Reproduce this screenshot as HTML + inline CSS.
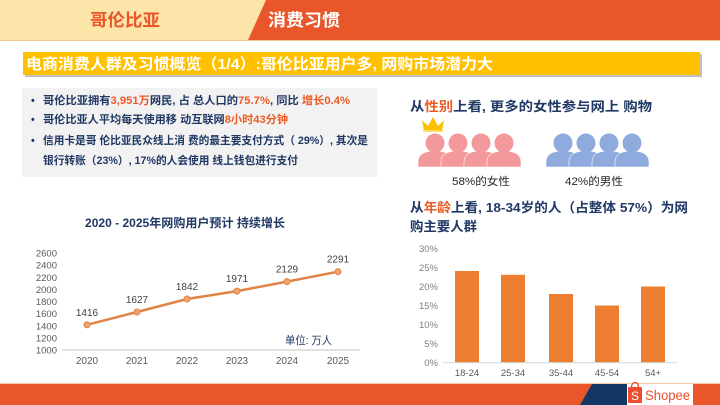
<!DOCTYPE html>
<html><head><meta charset="utf-8">
<style>
html,body{margin:0;padding:0;background:#fff;}
svg{display:block;}
text{font-family:"Liberation Sans","Noto Sans CJK SC",sans-serif;}
</style></head>
<body>
<svg width="720" height="405" viewBox="0 0 720 405" xmlns="http://www.w3.org/2000/svg">
<rect x="0" y="0" width="720" height="405" fill="#fff"/>
<!-- header -->
<rect x="0" y="0" width="720" height="40" fill="#fde5a9"/>
<polygon points="266,0 720,0 720,40 248,40" fill="#e8562a"/>
<rect x="0" y="40" width="720" height="1" fill="#f3c593"/>
<text x="90" y="26" font-size="17" font-weight="bold" fill="#e8562a" textLength="70" lengthAdjust="spacingAndGlyphs">哥伦比亚</text>
<text x="268" y="26" font-size="17" font-weight="bold" fill="#fff" textLength="72" lengthAdjust="spacingAndGlyphs">消费习惯</text>

<!-- title bar -->
<rect x="25" y="54" width="677" height="23" fill="#a6a6a6" opacity="0.7"/>
<rect x="23" y="52" width="677" height="23" fill="#ffc000"/>
<text x="26" y="69" font-size="15" font-weight="bold" fill="#fff" textLength="467" lengthAdjust="spacingAndGlyphs">电商消费人群及习惯概览（1/4）:哥伦比亚用户多, 网购市场潜力大</text>

<!-- bullets box -->
<rect x="22" y="88" width="355" height="89" fill="#f2f2f2"/>
<g font-size="10.8" font-weight="bold" fill="#203864">
<text x="31" y="104">•</text>
<text x="31" y="123">•</text>
<text x="31" y="144">•</text>
<text x="43" y="104" textLength="307" lengthAdjust="spacingAndGlyphs">哥伦比亚拥有<tspan fill="#ee5a24">3,951万</tspan>网民, 占 总人口的<tspan fill="#ee5a24">75.7%</tspan>, 同比 <tspan fill="#ee5a24">增长0.4%</tspan></text>
<text x="43" y="123" textLength="245" lengthAdjust="spacingAndGlyphs">哥伦比亚人平均每天使用移 动互联网<tspan fill="#ee5a24">8小时43分钟</tspan></text>
<text x="43" y="144" textLength="325" lengthAdjust="spacingAndGlyphs">信用卡是哥 伦比亚民众线上消 费的最主要支付方式（ 29%）, 其次是</text>
<text x="43" y="164" textLength="255" lengthAdjust="spacingAndGlyphs">银行转账（23%）, 17%的人会使用 线上钱包进行支付</text>
</g>

<!-- right headings -->
<g font-size="13" font-weight="bold" fill="#203864">
<text x="410" y="111" textLength="242" lengthAdjust="spacingAndGlyphs">从<tspan fill="#ee5a24">性别</tspan>上看, 更多的女性参与网上  购物</text>
<text x="410" y="212" textLength="278" lengthAdjust="spacingAndGlyphs">从<tspan fill="#ee5a24">年龄</tspan>上看, 18-34岁的人（占整体 57%）为网</text>
<text x="410" y="231" textLength="67" lengthAdjust="spacingAndGlyphs">购主要人群</text>
</g>

<!-- people -->
<g fill="#f4999b" stroke="#fff" stroke-width="0.6">
<path d="M418,167 L418,162 Q418,151 435,151 Q452,151 452,162 L452,167 Z"/>
<path d="M441,167 L441,162 Q441,151 458,151 Q475,151 475,162 L475,167 Z"/>
<path d="M464,167 L464,162 Q464,151 481,151 Q498,151 498,162 L498,167 Z"/>
<path d="M487,167 L487,162 Q487,151 504,151 Q521,151 521,162 L521,167 Z"/>
</g>
<g fill="#f4999b">
<circle cx="435" cy="143" r="9.5"/>
<circle cx="458" cy="143" r="9.5"/>
<circle cx="481" cy="143" r="9.5"/>
<circle cx="504" cy="143" r="9.5"/>
</g>
<polygon points="422,120 428,126 433,117 438,126 444,120 442,131 424,131" fill="#ffc000"/>
<rect x="423" y="130" width="20" height="2" fill="#ffd966"/>
<g fill="#8faadc" stroke="#fff" stroke-width="0.6">
<path d="M546,167 L546,162 Q546,151 563,151 Q580,151 580,162 L580,167 Z"/>
<path d="M569,167 L569,162 Q569,151 586,151 Q603,151 603,162 L603,167 Z"/>
<path d="M592,167 L592,162 Q592,151 609,151 Q626,151 626,162 L626,167 Z"/>
<path d="M615,167 L615,162 Q615,151 632,151 Q649,151 649,162 L649,167 Z"/>
</g>
<g fill="#8faadc">
<circle cx="563" cy="143" r="9.5"/>
<circle cx="586" cy="143" r="9.5"/>
<circle cx="609" cy="143" r="9.5"/>
<circle cx="632" cy="143" r="9.5"/>
</g>
<text x="452" y="185" font-size="11" fill="#262626" textLength="58" lengthAdjust="spacingAndGlyphs">58%的女性</text>
<text x="565" y="185" font-size="11" fill="#262626" textLength="58" lengthAdjust="spacingAndGlyphs">42%的男性</text>

<!-- line chart -->
<text x="85" y="227" font-size="12" font-weight="bold" fill="#203864" textLength="200" lengthAdjust="spacingAndGlyphs">2020 - 2025年网购用户预计 持续增长</text>
<g font-size="9.5" fill="#595959" text-anchor="end">
<text x="57" y="353.5">1000</text>
<text x="57" y="341.4">1200</text>
<text x="57" y="329.3">1400</text>
<text x="57" y="317.1">1600</text>
<text x="57" y="305">1800</text>
<text x="57" y="292.9">2000</text>
<text x="57" y="280.8">2200</text>
<text x="57" y="268.6">2400</text>
<text x="57" y="256.5">2600</text>
</g>
<line x1="62" y1="350" x2="360" y2="350" stroke="#d9d9d9" stroke-width="1.5"/>
<g font-size="10" fill="#595959" text-anchor="middle">
<text x="87" y="364">2020</text>
<text x="137" y="364">2021</text>
<text x="187" y="364">2022</text>
<text x="237" y="364">2023</text>
<text x="287" y="364">2024</text>
<text x="338" y="364">2025</text>
</g>
<polyline points="87,324.8 137,312 187,299 237,291.1 287,281.6 338,271.7" fill="none" stroke="#df8444" stroke-width="2.5"/>
<g fill="#f0a46e" stroke="#df8444" stroke-width="1">
<circle cx="87" cy="324.8" r="3"/>
<circle cx="137" cy="312" r="3"/>
<circle cx="187" cy="299" r="3"/>
<circle cx="237" cy="291.1" r="3"/>
<circle cx="287" cy="281.6" r="3"/>
<circle cx="338" cy="271.7" r="3"/>
</g>
<g font-size="10" fill="#404040" text-anchor="middle">
<text x="87" y="316">1416</text>
<text x="137" y="303">1627</text>
<text x="187" y="290">1842</text>
<text x="237" y="282">1971</text>
<text x="287" y="272.5">2129</text>
<text x="338" y="262.5">2291</text>
</g>
<text x="285" y="344" font-size="11" fill="#203864" textLength="47" lengthAdjust="spacingAndGlyphs">单位: 万人</text>

<!-- bar chart -->
<g font-size="9.5" fill="#7f7f7f" text-anchor="end">
<text x="438" y="252">30%</text>
<text x="438" y="271">25%</text>
<text x="438" y="290">20%</text>
<text x="438" y="309">15%</text>
<text x="438" y="328">10%</text>
<text x="438" y="347">5%</text>
<text x="438" y="366">0%</text>
</g>
<g fill="#ed7d31">
<rect x="455" y="271" width="24" height="91.7"/>
<rect x="501" y="274.8" width="24" height="87.9"/>
<rect x="549" y="294" width="24" height="68.7"/>
<rect x="595" y="305.5" width="24" height="57.2"/>
<rect x="641" y="286.5" width="24" height="76.2"/>
</g>
<line x1="443" y1="362.7" x2="677" y2="362.7" stroke="#d9d9d9" stroke-width="1.2"/>
<g font-size="9.5" fill="#595959" text-anchor="middle">
<text x="467" y="376">18-24</text>
<text x="513" y="376">25-34</text>
<text x="561" y="376">35-44</text>
<text x="607" y="376">45-54</text>
<text x="653" y="376">54+</text>
</g>

<!-- footer -->
<rect x="0" y="383" width="720" height="1" fill="#f6c5a4"/>
<rect x="0" y="384" width="720" height="21" fill="#e8562a"/>
<polygon points="592,384 627,384 627,405 580,405" fill="#123762"/>
<rect x="627" y="384" width="66" height="21" fill="#fff"/>
<path d="M631.5,388 Q631.5,382.5 635,382.5 Q638.5,382.5 638.5,388" fill="none" stroke="#ee4d2d" stroke-width="1.3"/>
<rect x="628" y="387" width="14" height="16" rx="1" fill="#ee4d2d"/>
<text x="635" y="400" font-size="12" fill="#fff" text-anchor="middle">S</text>
<text x="645" y="400" font-size="14" fill="#ee4d2d" textLength="45" lengthAdjust="spacingAndGlyphs">Shopee</text>
</svg>
</body></html>
